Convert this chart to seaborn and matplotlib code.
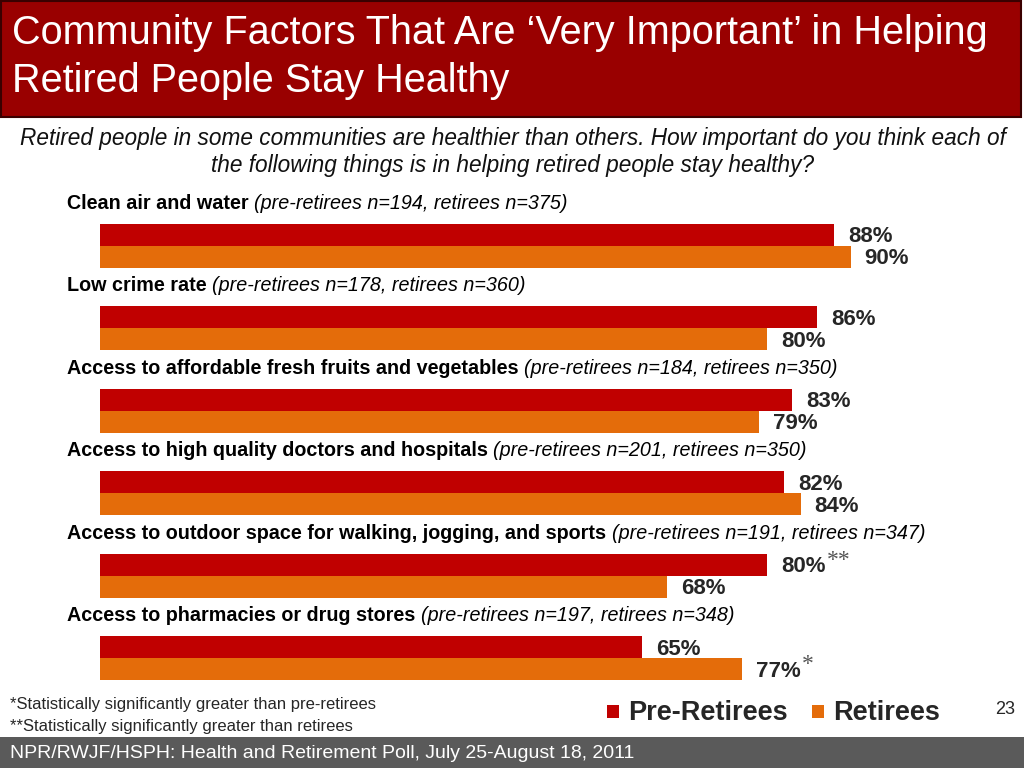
import matplotlib
matplotlib.use("Agg")
import matplotlib.pyplot as plt
import matplotlib.patches as mpatches
import seaborn as sns
import pandas as pd

# ---------------- data ----------------
categories = [
    "Clean air and water",
    "Low crime rate",
    "Access to affordable fresh fruits and vegetables",
    "Access to high quality doctors and hospitals",
    "Access to outdoor space for walking, jogging, and sports",
    "Access to pharmacies or drug stores",
]
sample_notes = [
    "(pre-retirees n=194, retirees n=375)",
    "(pre-retirees n=178, retirees n=360)",
    "(pre-retirees n=184, retirees n=350)",
    "(pre-retirees n=201, retirees n=350)",
    "(pre-retirees n=191, retirees n=347)",
    "(pre-retirees n=197, retirees n=348)",
]
pre_retirees = [88, 86, 83, 82, 80, 65]
retirees = [90, 80, 79, 84, 68, 77]
pre_marks = ["", "", "", "", "**", ""]
ret_marks = ["", "", "", "", "", "*"]
groups = ["Pre-Retirees", "Retirees"]

title = "Community Factors That Are \u2018Very Important\u2019 in Helping\nRetired People Stay Healthy"
subtitle = ("Retired people in some communities are healthier than others. How important do you think each of\n"
            "the following things is in helping retired people stay healthy?")
footnote1 = "*Statistically significantly greater than pre-retirees"
footnote2 = "**Statistically significantly greater than retirees"
source = "NPR/RWJF/HSPH: Health and Retirement Poll, July 25-August 18, 2011"
page_no = "23"

# ---------------- styling ----------------
sns.set_style("white")
plt.rcParams["font.family"] = ["Liberation Sans", "DejaVu Sans"]
RED = "#C00000"
ORANGE = "#E46C0A"
HEADER = "#990000"
FOOTER = "#5A5A5A"

W, H = 1024, 768
fig = plt.figure(figsize=(W / 100, H / 100), dpi=100)


def fx(px):
    return px / W


def fy(py):
    return 1 - py / H


# header box
fig.patches.append(mpatches.Rectangle((fx(1), fy(117)), fx(1020), 116 / H,
                                      transform=fig.transFigure, facecolor=HEADER,
                                      edgecolor="#3a0000", linewidth=1.5, zorder=0))
fig.text(fx(12), fy(57), title, color="white", fontsize=28.5,
         va="center", ha="left", linespacing=1.3)

# subtitle
fig.text(fx(513), fy(152), subtitle, fontsize=16.3, style="italic", ha="center",
         va="center", color="#111111", linespacing=1.22)

# ---------------- bars ----------------
df = pd.DataFrame({
    "category": categories * 2,
    "value": pre_retirees + retirees,
    "group": [groups[0]] * len(categories) + [groups[1]] * len(categories),
})

pitch = 82.5
ax_top, ax_bot = 190, 690
c0 = 245.5
ylo = (ax_bot - c0) / pitch
yhi = -(c0 - ax_top) / pitch
ax = fig.add_axes([fx(100), fy(ax_bot), fx(834), (ax_bot - ax_top) / H])
sns.barplot(data=df, x="value", y="category", hue="group", orient="h",
            palette=[RED, ORANGE], width=22 * 2 / pitch, ax=ax, legend=False,
            saturation=1, linewidth=0)
ax.set_xlim(0, 100)
ax.set_ylim(ylo, yhi)
ax.set_axis_off()

# category labels (bold name + italic sample note)
for i, (name, note) in enumerate(zip(categories, sample_notes)):
    t = ax.text(-33 / 8.34, i - 0.51, name + " ", fontsize=14.2, fontweight="bold",
                ha="left", va="center", color="black")
    ax.annotate(note, xy=(1, 0.5), xycoords=t, fontsize=14.2, style="italic",
                ha="left", va="center", color="black")

# value labels
for cont, marks in zip(ax.containers, [pre_marks, ret_marks]):
    for bar, m in zip(cont, marks):
        w = bar.get_width()
        yc = bar.get_y() + bar.get_height() / 2
        lab = ax.annotate(f"{w:.0f}%", xy=(w, yc), xytext=(10, -1.5), textcoords="offset points",
                          fontsize=16, fontweight="bold", ha="left", va="center")
        if m:
            ax.annotate(m, xy=(1, 0.8), xycoords=lab, xytext=(1, 0), textcoords="offset points",
                        fontsize=17, family=["Liberation Serif", "DejaVu Serif"],
                        color="#555555", ha="left", va="center")

# ---------------- footnotes & legend ----------------
fig.text(fx(10), fy(705), footnote1, fontsize=12, va="center")
fig.text(fx(10), fy(726), footnote2, fontsize=12, va="center")

for (x0, lab, col) in [(607, groups[0], RED), (812, groups[1], ORANGE)]:
    fig.patches.append(mpatches.Rectangle((fx(x0), fy(718)), fx(12), 13 / H,
                                          transform=fig.transFigure, facecolor=col,
                                          edgecolor="none"))
    fig.text(fx(x0 + 21), fy(713), lab, fontsize=19.5, fontweight="bold",
             va="center", ha="left")
fig.text(fx(1015), fy(709), page_no, fontsize=13, va="center", ha="right")

# footer band
fig.patches.append(mpatches.Rectangle((0, 0), 1, (H - 737) / H, transform=fig.transFigure,
                                      facecolor=FOOTER, edgecolor="none"))
fig.text(fx(10), fy(753), source, fontsize=14, color="white", va="center")

fig.savefig("out.png", dpi=100)
